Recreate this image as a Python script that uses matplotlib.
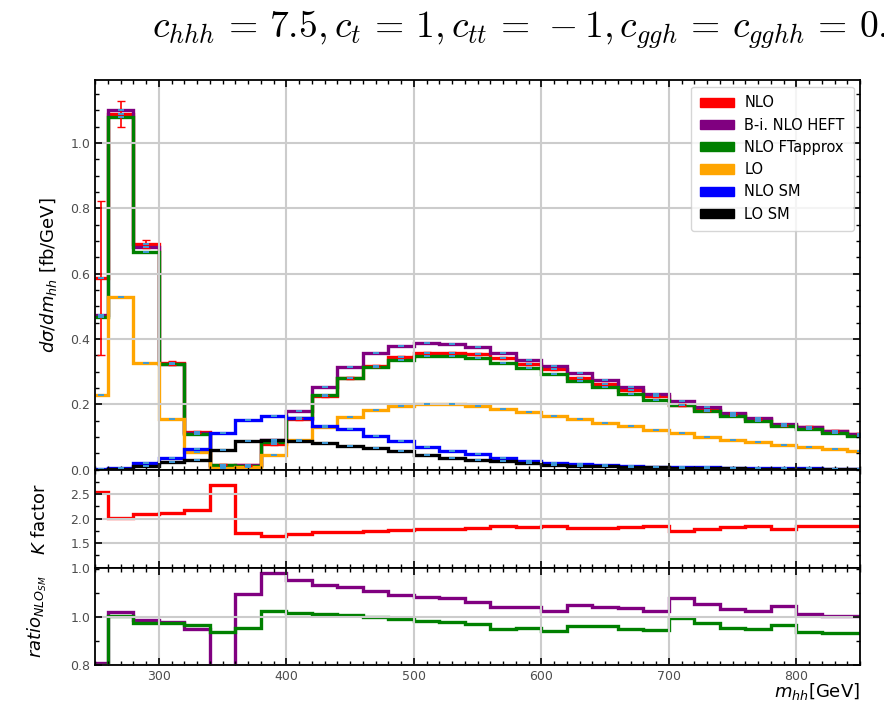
import numpy as np
import matplotlib
matplotlib.use('Agg')
import matplotlib.pyplot as plt
from matplotlib.patches import Patch
from matplotlib.ticker import MultipleLocator

# binning in m_hh [GeV]
edges = np.array([250, 260, 280, 300, 320, 340, 360, 380, 400, 420, 440, 460,
                  480, 500, 520, 540, 560, 580, 600, 620, 640, 660, 680, 700,
                  720, 740, 760, 780, 800, 820, 840, 860])

# dsigma/dm_hh [fb/GeV]
nlo = [0.586, 1.09, 0.69, 0.326, 0.115, 0.015, 0.013, 0.078, 0.155, 0.224,
       0.28, 0.318, 0.345, 0.357, 0.356, 0.353, 0.343, 0.324, 0.309, 0.282,
       0.263, 0.245, 0.226, 0.197, 0.183, 0.17, 0.155, 0.136, 0.13, 0.118, 0.109]
nlo_err = [0.235, 0.04, 0.012, 0.006, 0.004, 0.002, 0.002, 0.003, 0.003, 0.003,
           0.003, 0.003, 0.003, 0.003, 0.003, 0.003, 0.003, 0.003, 0.003, 0.003,
           0.003, 0.003, 0.003, 0.003, 0.003, 0.003, 0.003, 0.003, 0.003, 0.003, 0.003]
heft = [0.473, 1.10, 0.682, 0.324, 0.111, 0.007, 0.014, 0.09, 0.179, 0.254,
        0.315, 0.356, 0.379, 0.388, 0.384, 0.375, 0.358, 0.337, 0.317, 0.295,
        0.274, 0.254, 0.232, 0.211, 0.192, 0.174, 0.157, 0.141, 0.131, 0.119, 0.109]
ftapprox = [0.468, 1.08, 0.667, 0.322, 0.110, 0.014, 0.012, 0.085, 0.157, 0.228,
            0.279, 0.315, 0.337, 0.348, 0.348, 0.342, 0.327, 0.31, 0.292, 0.272,
            0.252, 0.233, 0.213, 0.198, 0.18, 0.164, 0.15, 0.133, 0.123, 0.111, 0.103]
lo = [0.228, 0.529, 0.327, 0.155, 0.053, 0.006, 0.008, 0.045, 0.092, 0.13,
      0.162, 0.182, 0.194, 0.2, 0.201, 0.195, 0.187, 0.177, 0.165, 0.155,
      0.144, 0.133, 0.122, 0.111, 0.101, 0.092, 0.083, 0.075, 0.07, 0.063, 0.058]
nlo_sm = [0.001, 0.004, 0.019, 0.037, 0.062, 0.113, 0.152, 0.163, 0.158, 0.133,
          0.123, 0.103, 0.087, 0.07, 0.057, 0.047, 0.036, 0.027, 0.02, 0.016,
          0.013, 0.011, 0.009, 0.008, 0.007, 0.006, 0.005, 0.004, 0.004, 0.003, 0.003]
lo_sm = [0.0, 0.002, 0.01, 0.022, 0.03, 0.06, 0.088, 0.092, 0.089, 0.082,
         0.073, 0.065, 0.056, 0.045, 0.037, 0.03, 0.025, 0.019, 0.015, 0.012,
         0.01, 0.008, 0.007, 0.006, 0.005, 0.004, 0.003, 0.003, 0.002, 0.002, 0.002]

# K factor NLO/LO
kfac = [2.55, 2.02, 2.10, 2.11, 2.17, 2.69, 1.71, 1.65, 1.69, 1.72,
        1.73, 1.75, 1.77, 1.78, 1.79, 1.81, 1.84, 1.83, 1.86, 1.80,
        1.81, 1.82, 1.84, 1.75, 1.78, 1.82, 1.84, 1.78, 1.86, 1.86, 1.86]

# ratios to NLO
ratio_heft = [0.807, 1.021, 0.987, 0.979, 0.948, 0.5, 1.095, 1.181, 1.155, 1.134,
              1.124, 1.11, 1.092, 1.082, 1.08, 1.061, 1.042, 1.042, 1.025, 1.05,
              1.043, 1.036, 1.025, 1.078, 1.054, 1.033, 1.023, 1.044, 1.011, 1.004, 1.004]
ratio_ft = [0.80, 1.004, 0.973, 0.973, 0.968, 0.938, 0.955, 1.023, 1.016, 1.011,
            1.007, 1.0, 0.99, 0.983, 0.979, 0.969, 0.951, 0.955, 0.941, 0.962,
            0.962, 0.951, 0.945, 0.995, 0.973, 0.952, 0.948, 0.966, 0.938, 0.934, 0.934]

centers = 0.5 * (edges[1:] + edges[:-1])

fig = plt.figure(figsize=(8.84, 7.03), dpi=100)
ax1 = fig.add_axes([0.1075, 0.332, 0.8655, 0.5542])
ax2 = fig.add_axes([0.1075, 0.1925, 0.8655, 0.1395], sharex=ax1)
ax3 = fig.add_axes([0.1075, 0.054, 0.8655, 0.1385], sharex=ax1)

lw = 2.4
dotc = '#3f9ad8'
series = [(nlo, 'red', 'NLO'),
          (heft, 'purple', 'B-i. NLO HEFT'),
          (ftapprox, 'green', 'NLO FTapprox'),
          (lo, 'orange', 'LO'),
          (nlo_sm, 'blue', 'NLO SM'),
          (lo_sm, 'black', 'LO SM')]
for vals, col, lab in series:
    ax1.stairs(vals, edges, color=col, lw=lw, baseline=None)
ax1.errorbar(centers, nlo, yerr=nlo_err, fmt='none', ecolor='red', elinewidth=1.2, capsize=3)
for vals, col, lab in series:
    ax1.plot(centers, vals, ls='none', marker='_', ms=4, mew=1.4, color=dotc)

ax1.set_ylim(0, 1.193)
ax1.yaxis.set_major_locator(MultipleLocator(0.2))
ax1.yaxis.set_minor_locator(MultipleLocator(0.05))
ax1.set_ylabel(r'$d\sigma/dm_{hh}$ [fb/GeV]', fontsize=13)
ax1.yaxis.set_label_coords(-0.047, 0.5)
handles = [Patch(color=c, label=l) for _, c, l in series]
ax1.legend(handles=handles, loc='upper right', fontsize=10.5, handlelength=2.3,
           handleheight=0.6, labelspacing=0.5, handletextpad=0.75,
           borderpad=0.6, framealpha=0.8, borderaxespad=0.45)

ax2.stairs(kfac, edges, color='red', lw=lw, baseline=None)
ax2.set_ylim(1.0, 3.0)
ax2.set_yticks([1.0, 1.5, 2.0, 2.5])
ax2.yaxis.set_minor_locator(MultipleLocator(0.25))
ax2.set_ylabel(r'$K$ factor', fontsize=13)
ax2.yaxis.set_label_coords(-0.06, 0.5)

ax3.stairs(ratio_heft, edges, color='purple', lw=lw, baseline=None)
ax3.stairs(ratio_ft, edges, color='green', lw=lw, baseline=None)
ax3.set_ylim(0.8, 1.205)
ax3.set_yticks([0.8, 1.0])
ax3.yaxis.set_minor_locator(MultipleLocator(0.1))
ax3.set_ylabel(r'$ratio_{NLO_{SM}}$', fontsize=13)
ax3.yaxis.set_label_coords(-0.06, 0.5)

for ax in (ax1, ax2, ax3):
    ax.set_xlim(250, 850)
    ax.xaxis.set_major_locator(MultipleLocator(100))
    ax.xaxis.set_minor_locator(MultipleLocator(10))
    ax.grid(True, which='major', color='0.8', lw=1.5)
    ax.tick_params(which='both', direction='in', top=True, right=True,
                   labelsize=9, labelcolor='0.3')
    ax.tick_params(which='major', length=5, width=1.2)
    ax.tick_params(which='minor', length=3, width=1)
    for sp in ax.spines.values():
        sp.set_linewidth(1.3)
ax1.tick_params(labelbottom=False)
ax2.tick_params(labelbottom=False)

fig.text(860 / 884, 1 - 692 / 703, r'$m_{hh}$[GeV]', ha='right', va='center', fontsize=13)
fig.text(152 / 884, 1 - 30 / 703,
         r'$c_{hhh}\,=\,7.5, c_t\,=\,1, c_{tt}\,=\,-1, c_{ggh}\,=\,c_{gghh}\,=\,0.0$',
         ha='left', va='center', fontsize=27, math_fontfamily='cm')

fig.savefig('out.png', dpi=100)
